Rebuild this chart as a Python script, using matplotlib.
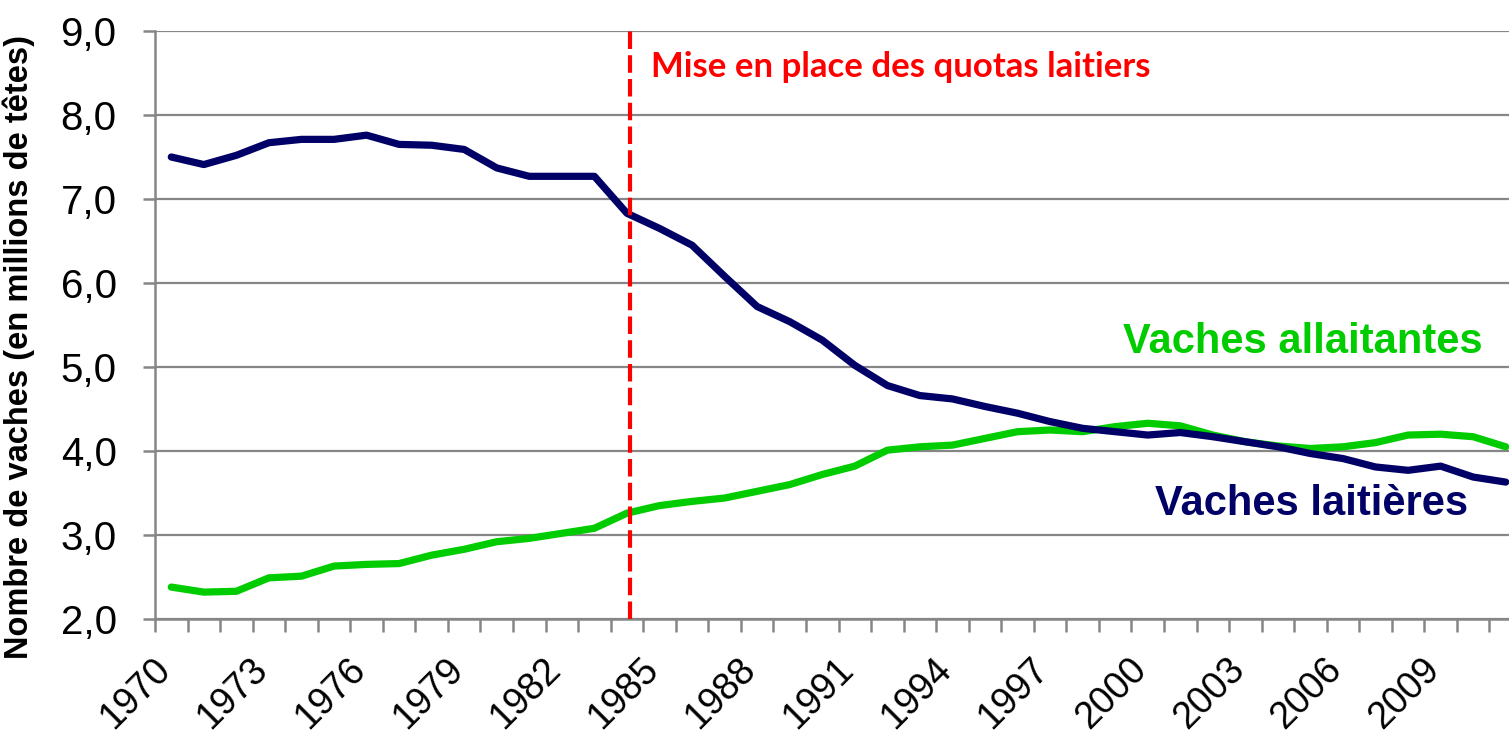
import numpy as np
import matplotlib
matplotlib.use('agg')
import matplotlib.pyplot as plt
from matplotlib.ticker import FixedLocator, FuncFormatter
from matplotlib.transforms import ScaledTranslation

annees = list(range(1970, 2012))

# vaches laitieres (millions de tetes)
laitieres = [7.50, 7.41, 7.52, 7.67, 7.71, 7.71, 7.76, 7.65, 7.64, 7.59,
             7.37, 7.27, 7.27, 7.27, 6.83, 6.65, 6.45, 6.08, 5.72, 5.54,
             5.32, 5.02, 4.78, 4.66, 4.62, 4.53, 4.45, 4.35, 4.27, 4.23,
             4.19, 4.22, 4.17, 4.11, 4.05, 3.97, 3.91, 3.81, 3.77, 3.82,
             3.69, 3.63]

# vaches allaitantes
allaitantes = [2.38, 2.32, 2.33, 2.49, 2.51, 2.63, 2.65, 2.66, 2.76, 2.83,
               2.92, 2.96, 3.02, 3.08, 3.26, 3.35, 3.40, 3.44, 3.52, 3.60,
               3.72, 3.82, 4.01, 4.05, 4.07, 4.15, 4.23, 4.25, 4.23, 4.29,
               4.33, 4.30, 4.19, 4.11, 4.06, 4.03, 4.05, 4.10, 4.19, 4.20,
               4.17, 4.05]

annee_quotas = 1984.1
y_ticks = [2, 3, 4, 5, 6, 7, 8, 9]
x_labels = list(range(1970, 2010, 3))

GRIS = '#868686'
BLEU = '#000066'
VERT = '#00CC00'
ROUGE = '#FF0000'

W, H = 1509, 735
fig = plt.figure(figsize=(W / 100, H / 100), dpi=100)
# axes goes a bit past the right edge, like the cropped original
x0, x1, y0, y1 = 155, 1522, 31, 619
ax = fig.add_axes([x0 / W, 1 - y1 / H, (x1 - x0) / W, (y1 - y0) / H])
ax.set_xlim(annees[0] - 0.5, annees[-1] + 0.5)
ax.set_ylim(2, 9)

for s in ['top', 'right']:
    ax.spines[s].set_visible(False)
for s in ['left', 'bottom']:
    ax.spines[s].set_color(GRIS)
    ax.spines[s].set_linewidth(1.8)

ax.yaxis.set_major_locator(FixedLocator(y_ticks))
ax.yaxis.set_major_formatter(FuncFormatter(lambda v, p: ('%.1f' % v).replace('.', ',')))
ax.grid(axis='y', color=GRIS, linewidth=1.6, zorder=0)
ax.set_axisbelow(True)
ax.tick_params(axis='y', direction='out', length=8.6, width=1.8, color=GRIS,
               pad=19, labelsize=29, labelfontfamily='Liberation Sans')

# ticks between categories, labels on categories
ax.xaxis.set_minor_locator(FixedLocator([a - 0.5 for a in annees] + [annees[-1] + 0.5]))
ax.xaxis.set_major_locator(FixedLocator(x_labels))
ax.tick_params(axis='x', which='minor', direction='out', length=9, width=1.8, color=GRIS)
ax.tick_params(axis='x', which='major', length=0, pad=23, labelsize=27,
               labelfontfamily='Liberation Sans')
decal = ScaledTranslation(6 / 100, 0, fig.dpi_scale_trans)
for lab in ax.get_xticklabels():
    lab.set_rotation(45)
    lab.set_ha('right')
    lab.set_va('top')
    lab.set_transform(lab.get_transform() + decal)

ax.plot(annees, allaitantes, color=VERT, linewidth=5.2, solid_capstyle='round', zorder=3)
ax.plot(annees, laitieres, color=BLEU, linewidth=5.2, solid_capstyle='round', zorder=4)

ax.axvline(annee_quotas, color=ROUGE, linewidth=3, dashes=(4.2, 1.5), zorder=5)

ax.set_ylabel('Nombre de vaches (en millions de têtes)', fontsize=23.5,
              fontweight='bold', family='Liberation Sans')
ax.yaxis.set_label_coords((35 - x0) / (x1 - x0), (y1 - 347) / (y1 - y0))

fig.text(651 / W, 1 - 77 / H, 'Mise en place des quotas laitiers', color=ROUGE,
         fontsize=25, fontweight='bold', family='Lato', ha='left', va='baseline')
fig.text(1483 / W, 1 - 353 / H, 'Vaches allaitantes', color=VERT, fontsize=30,
         fontweight='bold', family='Liberation Sans', ha='right', va='baseline')
fig.text(1468 / W, 1 - 515 / H, 'Vaches laitières', color=BLEU, fontsize=30,
         fontweight='bold', family='Liberation Sans', ha='right', va='baseline')

fig.savefig('out.png', dpi=100)
